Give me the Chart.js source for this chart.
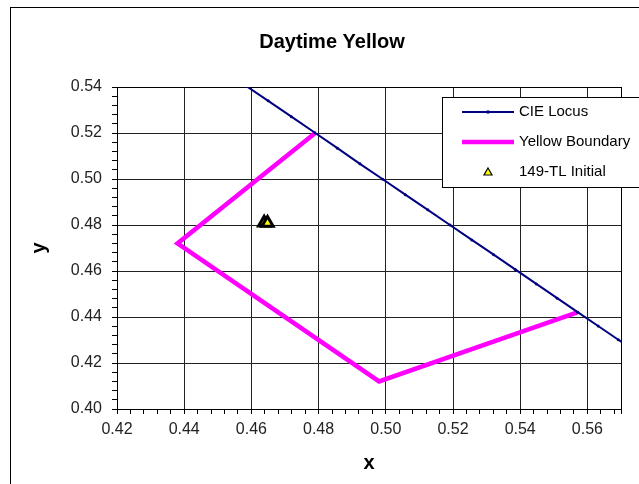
<!DOCTYPE html>
<html>
<head>
<meta charset="utf-8">
<script src="https://cdn.jsdelivr.net/npm/chart.js@4"></script>
<style>
  html, body { margin: 0; padding: 0; background: #fff; overflow: hidden; }
  #frame { position: absolute; left: 10px; top: 7px; width: 642px; height: 480px; border: 1px solid #000; }
  canvas { display: block; }
</style>
</head>
<body>
<div id="frame"><canvas id="cieChart" width="642" height="480"></canvas></div>
<script>
// CIE 1931 spectral locus, 570-591 nm in 1 nm steps
const locusX = [0.4441, 0.4511, 0.4580, 0.4650, 0.4719, 0.4788, 0.4856, 0.4923, 0.4991, 0.5058, 0.5125,
                0.5191, 0.5256, 0.5321, 0.5385, 0.5448, 0.5510, 0.5571, 0.5632, 0.5692, 0.5752, 0.5811];
const locusY = [0.5547, 0.5478, 0.5409, 0.5340, 0.5271, 0.5202, 0.5134, 0.5066, 0.4999, 0.4932, 0.4866,
                0.4800, 0.4735, 0.4671, 0.4607, 0.4544, 0.4482, 0.4421, 0.4361, 0.4301, 0.4242, 0.4183];

// Yellow boundary corners
const boundaryX = [0.479, 0.438, 0.498, 0.557];
const boundaryY = [0.520, 0.472, 0.412, 0.442];

// 149-TL initial measurements
const sampleX = [0.4638, 0.4648];
const sampleY = [0.4810, 0.4809];

const xTickLabels = ['0.42', '0.44', '0.46', '0.48', '0.50', '0.52', '0.54', '0.56'];
const yTickLabels = ['0.40', '0.42', '0.44', '0.46', '0.48', '0.50', '0.52', '0.54'];
const xMin = 0.42, xMax = 0.57;
const yMin = 0.40, yMax = 0.54;
const minorStep = 0.004;

function toPoints(xs, ys) {
    return xs.map(function(x, i) { return { x: x, y: ys[i] }; });
}

function minorTicks(min, max) {
    const ticks = [];
    for (let v = min; v < max - 1e-9; v += minorStep) {
        ticks.push({ value: Math.round(v * 1000) / 1000 });
    }
    ticks.push({ value: max });
    return ticks;
}

function majorLabel(value, labels) {
    const s = value.toFixed(2);
    if (Math.abs(parseFloat(s) - value) < 1e-6 && labels.indexOf(s) >= 0) return s;
    return '';
}

function gridColor(labels, min, max) {
    return function(ctx) {
        if (!ctx.tick) return 'rgba(0,0,0,0)';
        const v = ctx.tick.value;
        if (Math.abs(v - min) < 1e-6 || Math.abs(v - max) < 1e-6) return '#000';
        return majorLabel(v, labels) ? '#222' : 'rgba(0,0,0,0)';
    };
}

// Legend box drawn over the plot, like the original
const legendBox = {
    id: 'legendBox',
    afterDraw(chart) {
        const ctx = chart.ctx;
        const sets = chart.data.datasets;
        ctx.save();
        ctx.fillStyle = '#fff';
        ctx.strokeStyle = '#000';
        ctx.lineWidth = 1;
        ctx.fillRect(431.5, 89.5, 205, 90);
        ctx.strokeRect(431.5, 89.5, 205, 90);

        const rows = [104, 134, 164];
        ctx.font = '15px "Liberation Sans", Arial, sans-serif';
        ctx.textBaseline = 'middle';
        sets.forEach(function(ds, i) {
            const y = rows[i];
            if (ds.showLine) {
                ctx.strokeStyle = ds.borderColor;
                ctx.lineWidth = ds.borderWidth;
                ctx.beginPath();
                ctx.moveTo(451, y);
                ctx.lineTo(503, y);
                ctx.stroke();
                if (ds.pointRadius > 0) {
                    ctx.fillStyle = ds.borderColor;
                    ctx.beginPath();
                    ctx.arc(477, y, 1.8, 0, Math.PI * 2);
                    ctx.fill();
                }
            } else {
                ctx.fillStyle = ds.backgroundColor;
                ctx.strokeStyle = '#000';
                ctx.lineWidth = 1.2;
                ctx.beginPath();
                ctx.moveTo(477, y - 4);
                ctx.lineTo(481, y + 3);
                ctx.lineTo(473, y + 3);
                ctx.closePath();
                ctx.fill();
                ctx.stroke();
            }
            ctx.fillStyle = '#000';
            ctx.fillText(ds.label, 508, y);
        });
        ctx.restore();
    }
};

Chart.defaults.font.family = '"Liberation Sans", Arial, sans-serif';

document.addEventListener('DOMContentLoaded', function() {
    const cieCtx = document.getElementById('cieChart');
    new Chart(cieCtx, {
        type: 'scatter',
        data: {
            datasets: [{
                label: 'CIE Locus',
                data: toPoints(locusX, locusY),
                showLine: true,
                borderColor: '#000080',
                backgroundColor: '#000080',
                borderWidth: 2,
                pointRadius: 1.5,
                pointBorderWidth: 0,
                pointHoverRadius: 1.5
            }, {
                label: 'Yellow Boundary',
                data: toPoints(boundaryX, boundaryY),
                showLine: true,
                borderColor: '#ff00ff',
                backgroundColor: '#ff00ff',
                borderWidth: 4.5,
                pointRadius: 0,
                borderJoinStyle: 'miter'
            }, {
                label: '149-TL Initial',
                data: toPoints(sampleX, sampleY),
                showLine: false,
                pointStyle: 'triangle',
                pointRadius: 6.5,
                backgroundColor: '#ffff00',
                borderColor: '#000',
                borderWidth: 3
            }]
        },
        options: {
            responsive: false,
            animation: false,
            devicePixelRatio: 1,
            events: [],
            layout: { padding: 0 },
            plugins: {
                legend: { display: false },
                tooltip: { enabled: false },
                title: {
                    display: true,
                    text: 'Daytime Yellow',
                    color: '#000',
                    font: { size: 20, weight: 'bold' },
                    padding: { top: 22, bottom: 33 }
                }
            },
            scales: {
                x: {
                    type: 'linear',
                    min: xMin,
                    max: xMax,
                    afterBuildTicks: function(axis) { axis.ticks = minorTicks(xMin, xMax); },
                    afterFit: function(axis) { axis.height = 79; },
                    ticks: {
                        autoSkip: false,
                        maxRotation: 0,
                        minRotation: 0,
                        padding: 6,
                        color: '#222',
                        font: { size: 16 },
                        callback: function(v) { return majorLabel(v, xTickLabels); }
                    },
                    grid: {
                        color: gridColor(xTickLabels, xMin, xMax),
                        tickColor: '#000',
                        tickLength: 5,
                        lineWidth: 1
                    },
                    border: { color: '#000', width: 1 },
                    title: {
                        display: true,
                        text: 'x',
                        color: '#000',
                        font: { size: 20, weight: 'bold' },
                        padding: { top: 0, bottom: 13 }
                    }
                },
                y: {
                    type: 'linear',
                    min: yMin,
                    max: yMax,
                    afterBuildTicks: function(axis) { axis.ticks = minorTicks(yMin, yMax); },
                    afterFit: function(axis) { axis.width = 106; },
                    ticks: {
                        autoSkip: false,
                        padding: 10,
                        color: '#222',
                        font: { size: 16 },
                        callback: function(v) { return majorLabel(v, yTickLabels); }
                    },
                    grid: {
                        color: gridColor(yTickLabels, yMin, yMax),
                        tickColor: '#000',
                        tickLength: 5,
                        lineWidth: 1
                    },
                    border: { color: '#000', width: 1 },
                    title: {
                        display: true,
                        text: 'y',
                        color: '#000',
                        font: { size: 20, weight: 'bold' },
                        padding: { top: 16, bottom: 0 }
                    }
                },
                pad: {
                    type: 'linear',
                    position: 'right',
                    ticks: { display: false },
                    grid: { display: false },
                    border: { display: false },
                    afterFit: function(axis) { axis.width = 32; }
                }
            }
        },
        plugins: [legendBox]
    });
});
</script>
</body>
</html>
